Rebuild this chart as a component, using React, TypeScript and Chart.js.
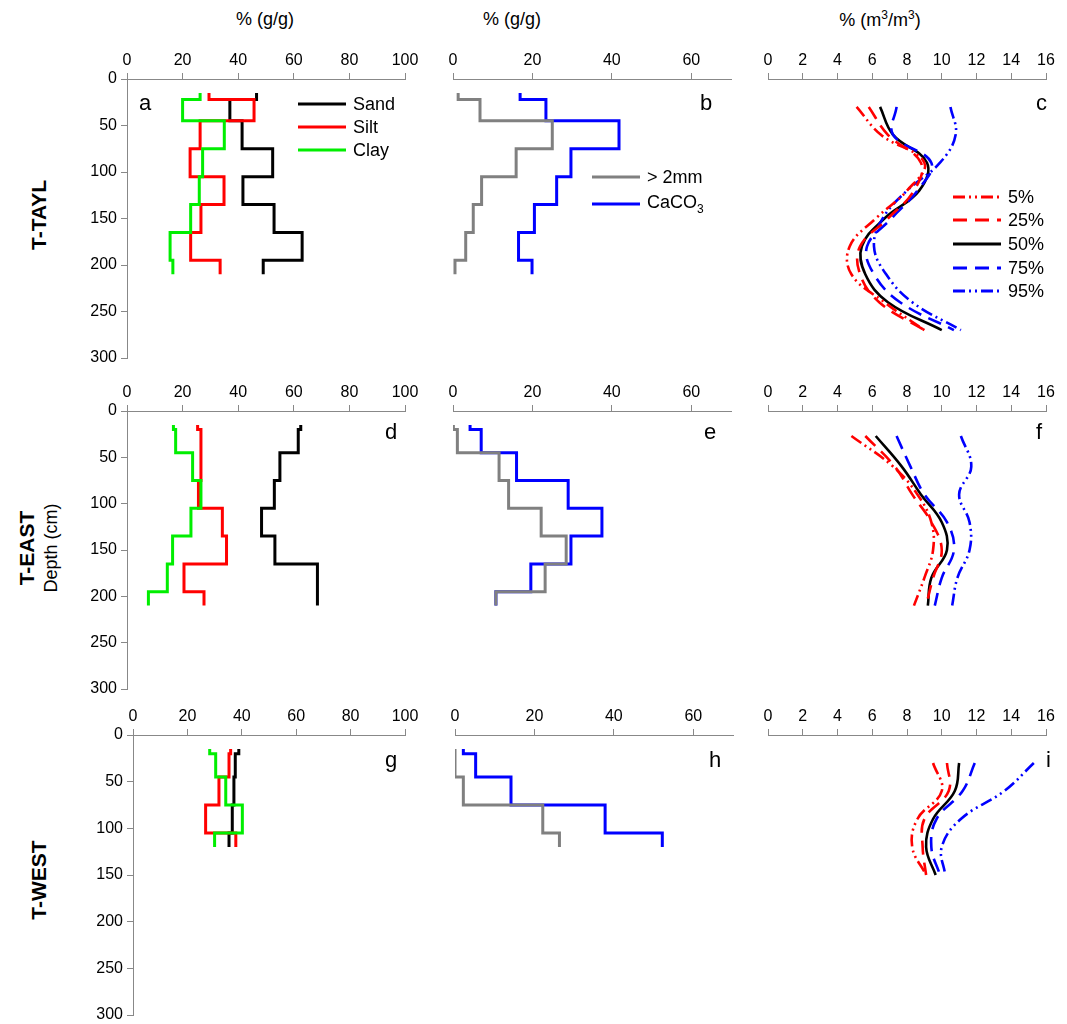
import { useEffect, useRef } from 'react'
import { Chart, registerables } from 'chart.js'

Chart.register(...registerables)

const FONT = "'Liberation Sans', Arial, sans-serif"

// depth layer boundaries (cm)
const layersTayl = [15, 22, 45, 75, 105, 135, 165, 195, 210]
const layersEast = [15, 20, 45, 75, 105, 135, 165, 195, 210]
const layersWest = [15, 20, 45, 75, 105, 120]

// texture % (g/g)
const sandA = [46.6, 37, 41.4, 52.4, 41.7, 52.9, 63, 49]
const siltA = [29.5, 45.7, 26.3, 22.7, 34.9, 26.6, 22.9, 33.5]
const clayA = [26.3, 20, 35, 27.2, 26, 22.9, 15.5, 16.5]
const gravelB = [1.3, 6.8, 25, 15.9, 7.2, 5.1, 3.2, 0.5]
const caco3B = [16.9, 23.4, 41.8, 29.7, 26.1, 20.5, 16.5, 19.9]

const sandD = [62.5, 61.6, 55, 53, 48.4, 53.2, 68.5, 68.5]
const siltD = [25.4, 26.6, 26.6, 25.7, 34.3, 35.8, 20.5, 27.7]
const clayD = [16.7, 17.5, 23.6, 26.6, 23, 16.4, 14.5, 7.7]
const gravelE = [0.1, 1.1, 11.6, 14, 22.2, 28.5, 23.2, 10.8]
const caco3E = [4.3, 7.1, 16, 29, 37.5, 29.7, 19.6, 10.8]

const sandG = [38.9, 37.6, 37.1, 36.5, 35.3]
const siltG = [35.9, 35.3, 31.6, 26.7, 37.8]
const clayG = [28.2, 30.4, 34.1, 40.2, 30]
const gravelH = [0, 0, 2.1, 22.1, 26.3]
const caco3H = [2.1, 5.2, 14.1, 37.8, 52.2]

// water content percentiles % (m3/m3)
const depthsC = [30, 60, 90, 120, 150, 180, 210, 240, 270]
const c5 = [5.1, 6.5, 9.0, 8.0, 6.2, 4.7, 4.8, 6.7, 9.0]
const c25 = [5.8, 6.9, 8.8, 8.4, 6.9, 5.3, 5.3, 6.4, 9.0]
const c50 = [6.45, 7.2, 9.15, 8.7, 6.7, 5.4, 5.6, 6.9, 10.0]
const c75 = [7.4, 7.2, 9.4, 8.6, 7.1, 5.7, 6.1, 7.6, 10.7]
const c95 = [10.5, 10.8, 9.9, 8.0, 6.6, 6.1, 6.8, 8.3, 11.1]

const depthsF = [27, 60, 90, 120, 150, 180, 210]
const f5 = [4.8, 7.2, 8.6, 9.4, 9.5, 9.0, 8.4]
const f25 = [5.6, 7.3, 8.3, 9.4, 10.0, 9.5, 9.1]
const f50 = [6.2, 7.7, 8.8, 10.0, 10.3, 9.4, 9.2]
const f75 = [7.4, 8.2, 9.0, 10.3, 10.7, 10.0, 9.6]
const f95 = [11.1, 11.7, 11.0, 11.6, 11.6, 10.9, 10.6]

const depthsI = [30, 60, 90, 120, 150]
const i5 = [9.5, 10.0, 8.6, 8.3, 9.1]
const i25 = [10.3, 10.4, 9.0, 8.9, 9.1]
const i50 = [11.0, 10.75, 9.5, 9.1, 9.65]
const i75 = [11.9, 11.2, 9.7, 9.4, 9.9]
const i95 = [15.3, 13.6, 11.1, 10.0, 10.2]

const RED = '#ff0000'
const BLUE = '#0000ff'
const GREEN = '#00ee00'
const GREY = '#808080'
const DASHDOT = [12, 4, 2, 4, 2, 4]
const DASH = [14, 8]

const steps = (layers: number[], vals: number[]) => {
  const pts: { x: number; y: number }[] = []
  vals.forEach((v, i) => {
    pts.push({ x: v, y: layers[i] })
    pts.push({ x: v, y: layers[i + 1] })
  })
  return pts
}

const profile = (depths: number[], vals: number[]) =>
  vals.map((v, i) => ({ x: v, y: depths[i] }))

const stepSet = (data: any, color: string) => ({
  data,
  borderColor: color,
  borderWidth: 3,
  pointRadius: 0,
  showLine: true,
})

const curveSet = (data: any, color: string, dash: number[], width = 2.6) => ({
  data,
  borderColor: color,
  borderWidth: width,
  borderDash: dash,
  pointRadius: 0,
  showLine: true,
  tension: 0.4,
})

const textureSets = (layers: number[], sand: number[], silt: number[], clay: number[]) => [
  stepSet(steps(layers, clay), GREEN),
  stepSet(steps(layers, silt), RED),
  stepSet(steps(layers, sand), '#000000'),
]

const carbSets = (layers: number[], gravel: number[], caco3: number[]) => [
  stepSet(steps(layers, gravel), GREY),
  stepSet(steps(layers, caco3), BLUE),
]

const waterSets = (d: number[], p5: number[], p25: number[], p50: number[], p75: number[], p95: number[]) => [
  curveSet(profile(d, p5), RED, DASHDOT),
  curveSet(profile(d, p25), RED, DASH),
  curveSet(profile(d, p75), BLUE, DASH),
  curveSet(profile(d, p95), BLUE, DASHDOT),
  curveSet(profile(d, p50), '#000000', [], 2.6),
]

type PanelPropsT = {
  x0: number
  x1: number
  y0: number
  y1: number
  xMax: number
  xStep: number
  showY: boolean
  datasets: any[]
}

const PAD_L = 50
const PAD_T = 30
const PAD_R = 20
const PAD_B = 15

const Panel = ({ x0, x1, y0, y1, xMax, xStep, showY, datasets }: PanelPropsT) => {
  const canvasRef = useRef<HTMLCanvasElement>(null)
  const w = x1 - x0 + PAD_L + PAD_R
  const h = y1 - y0 + PAD_T + PAD_B

  useEffect(() => {
    const chart = new Chart(canvasRef.current!, {
      type: 'scatter',
      data: { datasets },
      options: {
        responsive: false,
        animation: false,
        layout: { padding: { left: 0, top: 0, right: PAD_R, bottom: PAD_B } },
        plugins: { legend: { display: false }, tooltip: { enabled: false } },
        scales: {
          x: {
            type: 'linear',
            position: 'top',
            min: 0,
            max: xMax,
            border: { color: '#888888', width: 1 },
            grid: { drawOnChartArea: false, color: '#888888', tickLength: 6 },
            ticks: { stepSize: xStep, color: '#000', padding: 3, font: { family: FONT, size: 16 } },
            afterBuildTicks: (s: any) => {
              s.ticks = s.ticks.filter((t: any) => t.value % xStep === 0)
            },
            afterFit: (s: any) => {
              s.height = PAD_T
              s.paddingLeft = 0
              s.paddingRight = 0
            },
          },
          y: {
            type: 'linear',
            display: showY,
            reverse: true,
            min: 0,
            max: 300,
            border: { color: '#888888', width: 1 },
            grid: { drawOnChartArea: false, color: '#888888', tickLength: 6 },
            ticks: { stepSize: 50, color: '#000', padding: 4, font: { family: FONT, size: 16 } },
            afterFit: (s: any) => {
              s.width = PAD_L
              s.paddingTop = 0
              s.paddingBottom = 0
            },
          },
        },
      },
    })
    return () => chart.destroy()
  }, [])

  return (
    <canvas
      ref={canvasRef}
      width={w}
      height={h}
      style={{ position: 'absolute', left: x0 - PAD_L, top: y0 - PAD_T, width: w, height: h }}
    />
  )
}

const Txt = ({ x, y, children, size = 20, bold = false, rotate = false, center = false }: any) => (
  <div
    style={{
      position: 'absolute',
      left: x,
      top: y,
      fontFamily: FONT,
      fontSize: size,
      fontWeight: bold ? 'bold' : 'normal',
      whiteSpace: 'nowrap',
      lineHeight: 1,
      transform: rotate ? 'translate(-50%, -50%) rotate(-90deg)' : center ? 'translate(-50%, -50%)' : 'translate(0, -50%)',
    }}
  >
    {children}
  </div>
)

const LegendRow = ({ x, y, color, dash, label }: any) => (
  <>
    <svg style={{ position: 'absolute', left: x, top: y - 4 }} width={48} height={8}>
      <line x1={0} y1={4} x2={48} y2={4} stroke={color} strokeWidth={3} strokeDasharray={dash ? dash.join(' ') : undefined} />
    </svg>
    <Txt x={x + 55} y={y} size={18}>{label}</Txt>
  </>
)

const rows = [
  { y0: 79, y1: 358 },
  { y0: 411, y1: 689 },
  { y0: 735, y1: 1015 },
]

const App = () => {
  return (
    <div style={{ position: 'absolute', left: 0, top: 0, width: 1067, height: 1024, background: '#fff' }}>
      <Panel x0={127} x1={405} {...rows[0]} xMax={100} xStep={20} showY datasets={textureSets(layersTayl, sandA, siltA, clayA)} />
      <Panel x0={453} x1={731} {...rows[0]} xMax={70} xStep={20} showY={false} datasets={carbSets(layersTayl, gravelB, caco3B)} />
      <Panel x0={768} x1={1046} {...rows[0]} xMax={16} xStep={2} showY={false} datasets={waterSets(depthsC, c5, c25, c50, c75, c95)} />

      <Panel x0={127} x1={405} {...rows[1]} xMax={100} xStep={20} showY datasets={textureSets(layersEast, sandD, siltD, clayD)} />
      <Panel x0={453} x1={731} {...rows[1]} xMax={70} xStep={20} showY={false} datasets={carbSets(layersEast, gravelE, caco3E)} />
      <Panel x0={768} x1={1046} {...rows[1]} xMax={16} xStep={2} showY={false} datasets={waterSets(depthsF, f5, f25, f50, f75, f95)} />

      <Panel x0={133} x1={405} {...rows[2]} xMax={100} xStep={20} showY datasets={textureSets(layersWest, sandG, siltG, clayG)} />
      <Panel x0={455} x1={733} {...rows[2]} xMax={70} xStep={20} showY={false} datasets={carbSets(layersWest, gravelH, caco3H)} />
      <Panel x0={768} x1={1046} {...rows[2]} xMax={16} xStep={2} showY={false} datasets={waterSets(depthsI, i5, i25, i50, i75, i95)} />

      <Txt x={265} y={19} size={18} center>% (g/g)</Txt>
      <Txt x={512} y={19} size={18} center>% (g/g)</Txt>
      <Txt x={880} y={19} size={18} center>
        % (m<sup style={{ fontSize: 12 }}>3</sup>/m<sup style={{ fontSize: 12 }}>3</sup>)
      </Txt>

      <Txt x={38} y={215} bold rotate size={21}>T-TAYL</Txt>
      <Txt x={26} y={548} bold rotate size={21}>T-EAST</Txt>
      <Txt x={51} y={548} rotate size={18}>Depth (cm)</Txt>
      <Txt x={38} y={880} bold rotate size={21}>T-WEST</Txt>

      <Txt x={139} y={103} size={22}>a</Txt>
      <Txt x={700} y={103} size={22}>b</Txt>
      <Txt x={1036} y={103} size={22}>c</Txt>
      <Txt x={385} y={432} size={22}>d</Txt>
      <Txt x={704} y={432} size={22}>e</Txt>
      <Txt x={1036} y={432} size={22}>f</Txt>
      <Txt x={385} y={760} size={22}>g</Txt>
      <Txt x={709} y={760} size={22}>h</Txt>
      <Txt x={1046} y={760} size={22}>i</Txt>

      <LegendRow x={298} y={104} color="#000" label="Sand" />
      <LegendRow x={298} y={127} color={RED} label="Silt" />
      <LegendRow x={298} y={150} color={GREEN} label="Clay" />

      <LegendRow x={592} y={177} color={GREY} label="> 2mm" />
      <LegendRow x={592} y={204} color={BLUE} label={<>CaCO<sub style={{ fontSize: 12 }}>3</sub></>} />

      <LegendRow x={953} y={197} color={RED} dash={DASHDOT} label="5%" />
      <LegendRow x={953} y={220} color={RED} dash={DASH} label="25%" />
      <LegendRow x={953} y={244} color="#000" label="50%" />
      <LegendRow x={953} y={268} color={BLUE} dash={DASH} label="75%" />
      <LegendRow x={953} y={291} color={BLUE} dash={DASHDOT} label="95%" />
    </div>
  )
}

export default App
